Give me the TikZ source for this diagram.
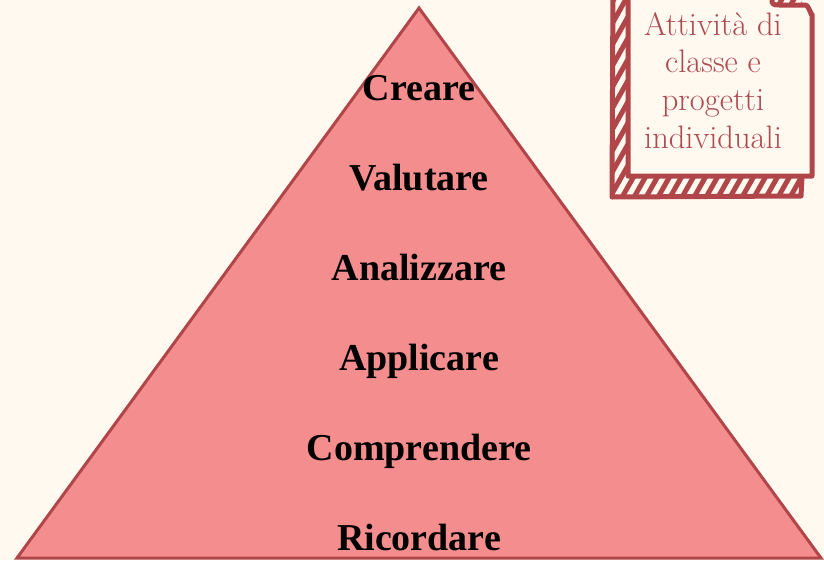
\documentclass[tikz,border=0pt]{standalone}
\usepackage{fontspec}
\newfontfamily\levelfont{Liberation Serif}
\definecolor{cream}{HTML}{FFF9EF}
\definecolor{pyrfill}{HTML}{F48E8E}
\definecolor{pyrline}{HTML}{B0464A}
\definecolor{notetext}{HTML}{B04A52}

\begin{document}
\begin{tikzpicture}[x=1pt,y=-1pt]
      \tikzset{
        node distance=90pt,
        level/.style={font=\levelfont\bfseries\fontsize{38}{38}\selectfont,inner sep=0pt,text height=26pt,text depth=8pt},
        note/.style={font=\fontsize{32.5}{37.7}\selectfont,text=notetext,align=center,inner sep=0pt},
        hatch/.style={pyrline,line width=5pt},
        sketch/.style={pyrline,line width=5pt,line join=round,line cap=round}
      }

      \fill[cream] (0,0) rectangle (824,560);
      \useasboundingbox (0,0) rectangle (824,560);

      % pyramid
      \coordinate (apex) at (419,8);
      \coordinate (baseL) at (17,558);
      \coordinate (baseR) at (821,558);
      \filldraw[fill=pyrfill,draw=pyrline,line width=3pt] (apex) -- (baseR) -- (baseL) -- cycle;

      \node[level] (creare) at (419,91) {Creare};
      \node[level,below of=creare] (valutare) {Valutare};
      \node[level,below of=valutare] (analizzare) {Analizzare};
      \node[level,below of=analizzare] (applicare) {Applicare};
      \node[level,below of=applicare] (comprendere) {Comprendere};
      \node[level,below of=comprendere] (ricordare) {Ricordare};

      % note box with hatched shadow
      \begin{scope}
        \clip (612,-20) rectangle (802,197);
        \foreach \x in {468,480,...,816}
          \draw[hatch] (\x,215) -- ++(130,-230);
      \end{scope}
      \draw[sketch] (613,-20) -- (612,197) -- (801,196) -- (802,176);
      \filldraw[sketch,fill=cream] (628,-20) -- (772,-20) -- (772,2)
            to[out=-80,in=180] (780,5) -- (805,5) to[out=0,in=-95] (812,14)
            -- (812,176) -- (628,176) -- cycle;
      \node[note,anchor=north] (activities) at (713,12) {Attività di\\classe e\\progetti\\individuali};
    \end{tikzpicture}
\end{document}
